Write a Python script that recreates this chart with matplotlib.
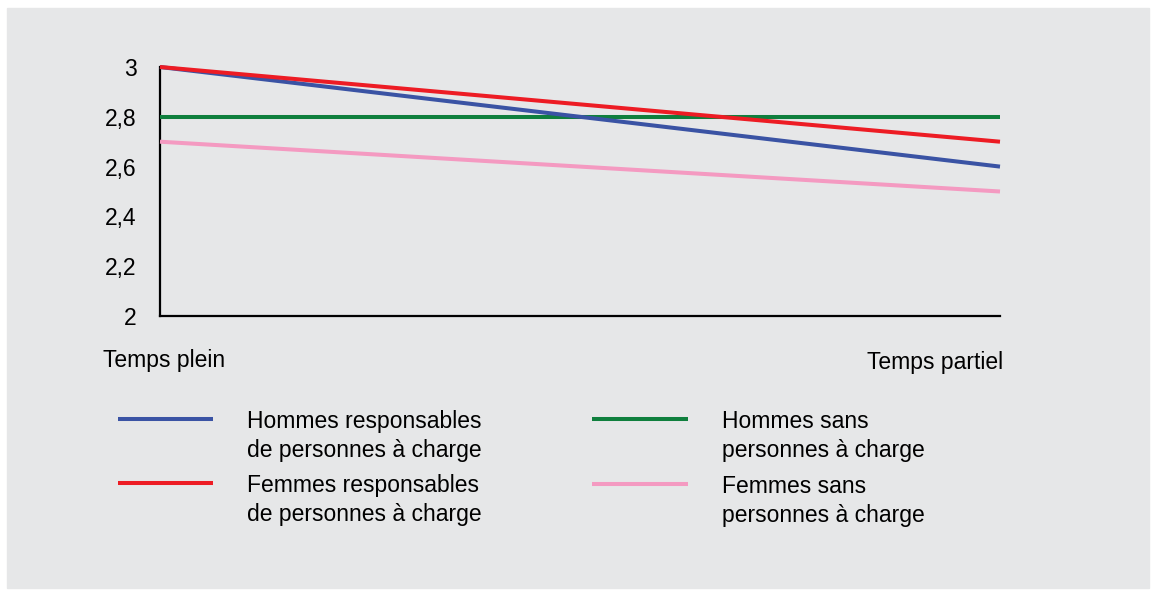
import matplotlib.pyplot as plt
import matplotlib.transforms as mtransforms
from matplotlib.lines import Line2D
from matplotlib.patches import Rectangle

plt.rcParams['font.family'] = ['Liberation Sans', 'DejaVu Sans']

# situations (axe des x) et valeurs des quatre groupes
situations = ["Temps plein", "Temps partiel"]
hommes_resp = [3.0, 2.6]
femmes_resp = [3.0, 2.7]
hommes_sans = [2.8, 2.8]
femmes_sans = [2.7, 2.5]
yticks = [2, 2.2, 2.4, 2.6, 2.8, 3]

series = [
    (hommes_resp, "#3a53a4", "Hommes responsables\nde personnes à charge"),
    (femmes_resp, "#ed1c24", "Femmes responsables\nde personnes à charge"),
    (hommes_sans, "#0f7f3d", "Hommes sans\npersonnes à charge"),
    (femmes_sans, "#f49ac1", "Femmes sans\npersonnes à charge"),
]

W, H = 1153, 590
fig = plt.figure(figsize=(W / 100, H / 100), dpi=100)
fig.patch.set_facecolor("white")
gris = "#e6e7e8"
fig.add_artist(Rectangle((7 / W, 2 / H), 1142 / W, 580 / H,
                         transform=fig.transFigure, color=gris, zorder=0))

ax = fig.add_axes([160 / W, 274 / H, 840 / W, 249 / H])
ax.set_facecolor("none")

x = [0, 1]
# ordre de tracé : rose, vert, bleu, rouge (rouge au-dessus)
for idx in [3, 2, 0, 1]:
    vals, col, lab = series[idx]
    ax.plot(x, vals, color=col, lw=2.9, solid_capstyle="butt", zorder=3,
            clip_on=False)

ax.set_xlim(0, 1)
ax.set_ylim(2, 3)
for s in ["top", "right"]:
    ax.spines[s].set_visible(False)
for s in ["left", "bottom"]:
    ax.spines[s].set_linewidth(1.6)
    ax.spines[s].set_color("black")

ax.set_yticks(yticks)
ax.set_yticklabels([f"{v:g}".replace(".", ",") for v in yticks])
ax.tick_params(axis="y", length=0, pad=17, labelsize=16.5)
ax.set_xticks(x)
ax.set_xticklabels(situations)
ax.tick_params(axis="x", length=0, pad=24, labelsize=16.5)
lbls = ax.get_xticklabels()
lbls[0].set_ha("center")
lbls[1].set_ha("right")
lbls[1].set_transform(lbls[1].get_transform() + mtransforms.ScaledTranslation(3 / 100, -2 / 100, fig.dpi_scale_trans))
lbls[0].set_transform(lbls[0].get_transform() + mtransforms.ScaledTranslation(4 / 100, 0, fig.dpi_scale_trans))

# légende dessinée à la main (deux colonnes)
pos = [(118, 213, 247, 419), (118, 213, 247, 483),
       (592, 688, 722, 419), (592, 688, 722, 484)]
for (vals, col, lab), (x0, x1, xt, yl) in zip(series, pos):
    fig.add_artist(Line2D([x0 / W, x1 / W], [1 - yl / H, 1 - yl / H],
                          transform=fig.transFigure, color=col, lw=2.9,
                          solid_capstyle="butt"))
    fig.text(xt / W, 1 - (yl - 9) / H, lab, fontsize=16.5, va="top",
             ha="left", linespacing=1.32)

fig.savefig("out.png", dpi=100, facecolor=fig.get_facecolor())
